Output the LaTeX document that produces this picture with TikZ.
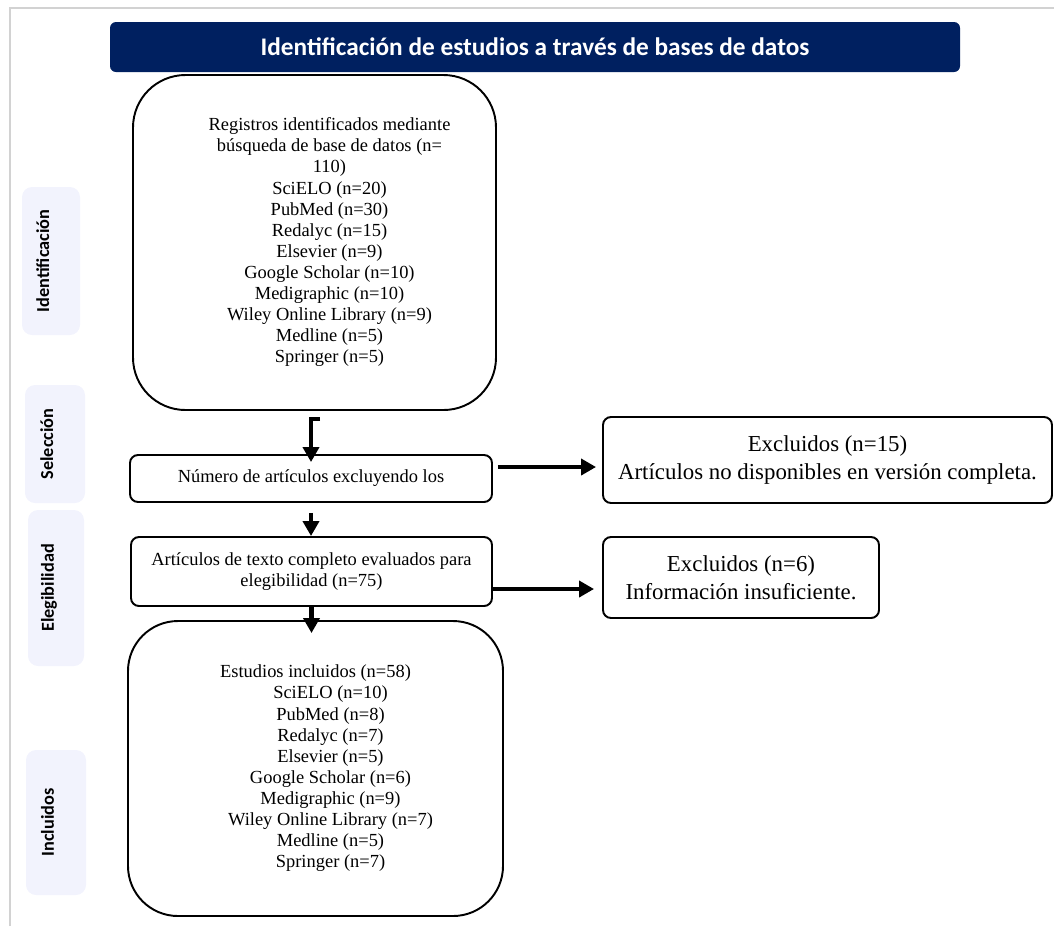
\documentclass[tikz,border=0pt]{standalone}
\usepackage{fontspec}
\setmainfont{Liberation Serif}
\newfontfamily\calibri{Carlito}
\usetikzlibrary{arrows.meta, positioning}
\definecolor{navy}{HTML}{002060}
\definecolor{lavanda}{HTML}{F2F3FD}

\begin{document}
\begin{tikzpicture} [caja/.style={draw=black, line width=1.1pt, rounded corners=0.16cm,
        align=center, inner sep=0pt, font=\fontsize{10.5}{12}\selectfont},
    grande/.style={caja, rounded corners=1.05cm},
    excl/.style={caja, font=\fontsize{13}{15.9}\selectfont},
    fase/.style={fill=lavanda, rounded corners=0.2cm, rotate=90, inner sep=0pt,
        text height=0.25cm, text depth=0.33cm,
        font=\calibri\bfseries\fontsize{10.4}{12}\selectfont},
    flecha/.style={-{Triangle[length=0.3cm, width=0.32cm]}, line width=0.085cm}]

\useasboundingbox (0,0) rectangle (21.08,-18.52);

% marco
\draw [gray!35, line width=0.6pt] (0.2,-18.52) -- (0.2,-0.16) -- (21.08,-0.16);

\node (titulo) [fill=navy, rounded corners=0.12cm, minimum width=17cm, minimum height=1cm,
    text=white, font=\calibri\bfseries\fontsize{14.4}{17}\selectfont] at (10.7,-0.94)
    {Identificación de estudios a través de bases de datos};

% fases
\node (fid) [fase, minimum width=2.96cm, minimum height=1.16cm] at (1.02,-5.22) {Identificación};
\node (fsel) [fase, minimum width=2.36cm, minimum height=1.2cm] at (1.1,-8.88) {Selección};
\node (fele) [fase, minimum width=3.12cm, minimum height=1.12cm] at (1.12,-11.76) {Elegibilidad};
\node (finc) [fase, minimum width=2.9cm, minimum height=1.2cm] at (1.12,-16.45) {Incluidos};

% cajas
\node (reg) [grande, minimum width=7.26cm, minimum height=6.7cm] at (6.29,-4.85)
    {\begin{tabular}{@{\hspace{0.6cm}}c@{}}
    Registros identificados mediante\\ búsqueda de base de datos (n=\\ 110)\\
    SciELO (n=20)\\ PubMed (n=30)\\ Redalyc (n=15)\\ Elsevier (n=9)\\
    Google Scholar (n=10)\\ Medigraphic (n=10)\\ Wiley Online Library (n=9)\\
    Medline (n=5)\\ Springer (n=5)
    \end{tabular}};

\node (num) [caja, minimum width=7.24cm, minimum height=0.94cm] at (6.22,-9.57)
    {Número de artículos excluyendo los};

\node (art) [caja, minimum width=7.22cm, minimum height=1.38cm] at (6.23,-11.43)
    {Artículos de texto completo evaluados para\\ elegibilidad (n=75)};

\node (inc) [grande, rounded corners=1cm, minimum width=7.5cm, minimum height=5.9cm] at (6.31,-15.37)
    {\begin{tabular}{@{\hspace{0.6cm}}c@{}}
    Estudios incluidos (n=58)\hspace*{0.6cm}\\ SciELO (n=10)\\ PubMed (n=8)\\ Redalyc (n=7)\\
    Elsevier (n=5)\\ Google Scholar (n=6)\\ Medigraphic (n=9)\\
    Wiley Online Library (n=7)\\ Medline (n=5)\\ Springer (n=7)
    \end{tabular}};

\node (exc1) [excl, minimum width=8.98cm, minimum height=1.72cm] at (16.55,-9.2)
    {Excluidos (n=15)\\ Artículos no disponibles en versión completa.};

\node (exc2) [excl, minimum width=5.52cm, minimum height=1.62cm] at (14.82,-11.55)
    {Excluidos (n=6)\\ Información insuficiente.};

% flechas
\coordinate (k1) at (6.4,-8.38);
\path ([yshift=0.23cm]num.east) coordinate (e1);
\path ([yshift=-0.35cm]art.east) coordinate (e2);

\draw [flecha, shorten >=-0.16cm] (k1) -| (num.north);
\draw [flecha, shorten <=0.2cm] (num.south) -- (num.south |- art.north);
\draw [flecha, shorten >=-0.26cm] (art.south) -- (art.south |- inc.north);
\draw [flecha, shorten <=0.1cm, shorten >=0.12cm] (e1) -- (e1 -| exc1.west);
\draw [flecha, shorten >=0.16cm] (e2) -- (e2 -| exc2.west);
\end{tikzpicture}
\end{document}
